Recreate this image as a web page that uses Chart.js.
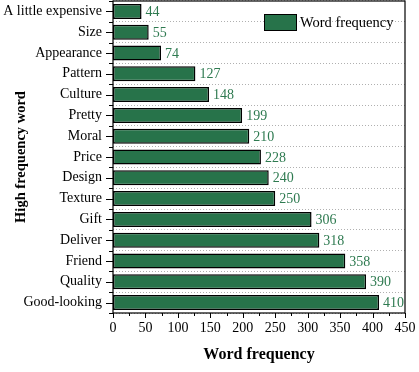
<!DOCTYPE html>
<html>
<head>
<meta charset="utf-8">
<script src="https://cdn.jsdelivr.net/npm/chart.js@4/dist/chart.umd.min.js"></script>
<style>
html,body{margin:0;padding:0;background:#fff;}
#c{display:block;}
</style>
</head>
<body>
<canvas id="c" width="419" height="372"></canvas>
<script>
const categories = ["A little expensive","Size","Appearance","Pattern","Culture","Pretty","Moral","Price","Design","Texture","Gift","Deliver","Friend","Quality","Good-looking"];
const frequency = [44,55,74,127,148,199,210,228,240,250,306,318,358,390,410];
const xTicks = [0,50,100,150,200,250,300,350,400,450];
const seriesName = "Word frequency";

const BAR = '#27734a';
const LABEL = '#2e7a50';
const FONT = '"Liberation Serif","Times New Roman",serif';

const decor = {
  id: 'decor',
  afterDatasetsDraw(chart) {
    const ctx = chart.ctx, a = chart.chartArea;
    const xs = chart.scales.x, ys = chart.scales.y;
    ctx.save();
    ctx.strokeStyle = '#000';
    ctx.lineWidth = 1.2;
    ctx.strokeRect(a.left, a.top, a.right - a.left, a.bottom - a.top);
    ctx.lineWidth = 1;
    ctx.beginPath();
    for (let i = 0; i < categories.length; i++) {
      const y = Math.round(ys.getPixelForValue(i)) + 0.5;
      ctx.moveTo(a.left - 7, y); ctx.lineTo(a.left, y);
    }
    for (let i = 0; i <= categories.length; i++) {
      const y = Math.round(ys.getPixelForValue(i - 0.5)) + 0.5;
      ctx.moveTo(a.left - 4, y); ctx.lineTo(a.left, y);
    }
    for (let k = 0; k < xTicks.length; k++) {
      const x = Math.round(xs.getPixelForValue(xTicks[k])) + 0.5;
      ctx.moveTo(x, a.bottom); ctx.lineTo(x, a.bottom + 5);
      if (k < xTicks.length - 1) {
        const xm = Math.round(xs.getPixelForValue((xTicks[k] + xTicks[k+1]) / 2)) + 0.5;
        ctx.moveTo(xm, a.bottom); ctx.lineTo(xm, a.bottom + 3);
      }
    }
    ctx.stroke();
    ctx.font = '14px ' + FONT;
    ctx.fillStyle = LABEL;
    ctx.textAlign = 'left';
    ctx.textBaseline = 'middle';
    const meta = chart.getDatasetMeta(0);
    meta.data.forEach((bar, i) => {
      ctx.fillText(String(frequency[i]), bar.x + 4, bar.y + 1);
    });
    ctx.fillStyle = BAR;
    ctx.fillRect(264, 14, 33, 17);
    ctx.strokeStyle = '#000';
    ctx.lineWidth = 1;
    ctx.strokeRect(264.5, 14.5, 32, 16);
    ctx.fillStyle = '#000';
    ctx.font = '14.5px ' + FONT;
    ctx.fillText(seriesName, 300, 23);
    ctx.restore();
  }
};

new Chart(document.getElementById('c'), {
  type: 'bar',
  data: {
    labels: categories,
    datasets: [{
      label: seriesName,
      data: frequency,
      backgroundColor: BAR,
      borderColor: '#000',
      borderWidth: 1.5,
      borderSkipped: false,
      barPercentage: 0.72,
      categoryPercentage: 1.0
    }]
  },
  options: {
    indexAxis: 'y',
    responsive: false,
    animation: false,
    devicePixelRatio: 1,
    layout: { padding: { top: 1, right: 14, left: 0, bottom: 0 } },
    plugins: { legend: { display: false }, tooltip: { enabled: false } },
    scales: {
      x: {
        type: 'linear',
        min: 0, max: 450,
        afterFit(s) { s.height = 59; s.paddingLeft = 0; s.paddingRight = 0; },
        afterBuildTicks(s) { s.ticks = xTicks.map(v => ({ value: v })); },
        grid: { display: false, drawTicks: false },
        border: { display: false },
        ticks: { color: '#000', font: { family: FONT, size: 14 }, padding: 7, maxRotation: 0, autoSkip: false },
        title: { display: true, text: 'Word frequency', color: '#000', font: { family: FONT, size: 16, weight: 'bold' }, padding: { top: 0, bottom: 8 } }
      },
      y: {
        type: 'category',
        afterFit(s) { s.width = 113; s.paddingTop = 0; s.paddingBottom = 0; },
        grid: { display: true, offset: true, drawTicks: false, color: '#b0b0b0', lineWidth: 1 },
        border: { display: false, dash: [1, 2] },
        ticks: { color: '#000', font: { family: FONT, size: 14 }, padding: 11, autoSkip: false },
        title: { display: true, text: 'High frequency word', color: '#000', font: { family: FONT, size: 14.5, weight: 'bold' }, padding: { top: 13, bottom: 0 } }
      }
    }
  },
  plugins: [decor]
});
</script>
</body>
</html>
